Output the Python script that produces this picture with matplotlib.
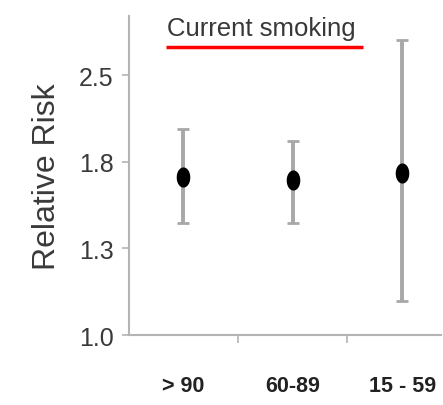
import numpy as np
import matplotlib
matplotlib.use('Agg')
import matplotlib.pyplot as plt
from matplotlib.path import Path

# data
groups = ['> 90', '60-89', '15 - 59']
rr = [1.70, 1.68, 1.73]
rr_low = [1.43, 1.43, 1.11]
rr_high = [2.04, 1.95, 2.86]
y_ticks = [1.0, 1.3, 1.8, 2.5]

# the axis puts these tick values at even steps (log-like)
knots = np.log(y_ticks)
steps = np.arange(len(y_ticks), dtype=float)


def fwd(v):
    x = np.log(np.clip(np.asarray(v, dtype=float), 1e-6, None))
    y = np.interp(x, knots, steps)
    y = np.where(x < knots[0], (x - knots[0]) / (knots[1] - knots[0]), y)
    y = np.where(x > knots[-1], steps[-1] + (x - knots[-1]) / (knots[-1] - knots[-2]), y)
    return y


def inv(y):
    y = np.asarray(y, dtype=float)
    x = np.interp(y, steps, knots)
    x = np.where(y < 0, knots[0] + y * (knots[1] - knots[0]), x)
    x = np.where(y > steps[-1], knots[-1] + (y - steps[-1]) * (knots[-1] - knots[-2]), x)
    return np.exp(x)


plt.rcParams['font.family'] = ['Liberation Sans', 'DejaVu Sans']

fig = plt.figure(figsize=(4.43, 4.06), dpi=100)
ax = fig.add_axes([0.291, 0.1724, 0.704, 0.785])
ax.set_yscale('function', functions=(fwd, inv))

# ellipse marker like the original dots
t = np.linspace(0, 2 * np.pi, 40)
ell = Path(np.column_stack([0.65 * np.cos(t), np.sin(t)]))

x = np.arange(len(groups))
err = [np.array(rr) - np.array(rr_low), np.array(rr_high) - np.array(rr)]
_, caps, _ = ax.errorbar(x, rr, yerr=err, fmt='none', ecolor='#a8a8a8', elinewidth=2.8,
                         capsize=4.5, capthick=2, zorder=2)
for c in caps:
    c.set_color('#606060')
ax.plot(x, rr, linestyle='none', marker=ell, markersize=13.5, color='black', zorder=3)

ax.set_xlim(-0.49, 2.35)
ax.set_ylim(1.0, 3.13)

gray = '#b4b4b4'
for s in ['top', 'right']:
    ax.spines[s].set_visible(False)
for s in ['left', 'bottom']:
    ax.spines[s].set_color(gray)
    ax.spines[s].set_linewidth(1.5)

ax.set_yticks(y_ticks)
ax.set_yticklabels(['%.1f' % v for v in y_ticks])
ax.yaxis.set_minor_locator(matplotlib.ticker.NullLocator())
ax.tick_params(axis='y', which='major', length=5, width=1.2, color=gray,
               labelsize=18, labelcolor='#3a3a3a', pad=6)

ax.set_xticks(x)
ax.set_xticklabels(groups, fontweight='bold')
ax.set_xticks([0.5, 1.5], minor=True)
ax.tick_params(axis='x', which='major', length=0, labelsize=15.5, labelcolor='#222222', pad=29)
ax.tick_params(axis='x', which='minor', length=6, width=1.2, color=gray)

ax.set_ylabel('Relative Risk', fontsize=23, color='#3a3a3a', labelpad=12)

ax.text(0.423, 0.962, 'Current smoking', transform=ax.transAxes, ha='center', va='center',
        fontsize=18.5, color='#383838')
ax.plot([0.119, 0.75], [0.903, 0.903], transform=ax.transAxes, color='#ff0000',
        linewidth=2.5, clip_on=False, solid_capstyle='butt')

fig.savefig('out.png', dpi=100)
